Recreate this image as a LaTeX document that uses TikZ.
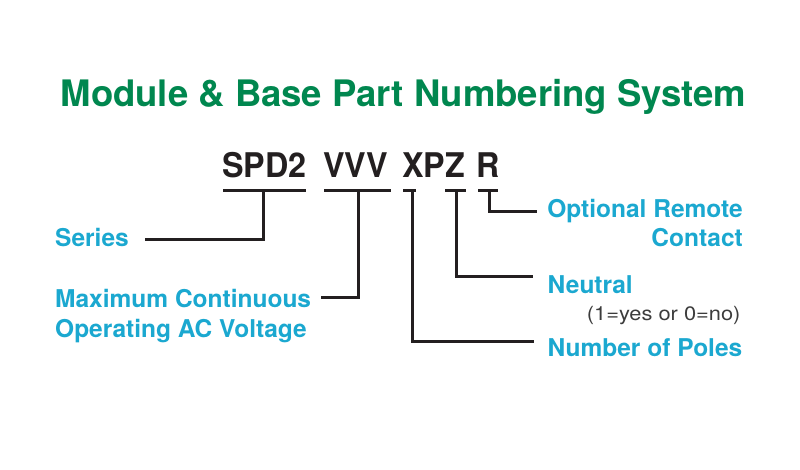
\documentclass[tikz,border=0pt]{standalone}
\usepackage{fontspec}
\setmainfont{TeX Gyre Heros}
\newfontfamily\codefont[FakeStretch=0.95]{TeX Gyre Heros}
\newfontfamily\notefont[FakeStretch=1.12]{TeX Gyre Heros}
\usetikzlibrary{calc}
\definecolor{PNGreen}{HTML}{00874F}
\definecolor{PNCyan}{HTML}{1BA8D0}
\definecolor{PNInk}{HTML}{231F20}
\definecolor{PNNote}{HTML}{3C3C3C}

\begin{document}
\begin{tikzpicture}[
    x=1pt,y=-1pt,
    heading/.style={inner sep=0,text=PNGreen,font=\bfseries\fontsize{36.5}{40}\selectfont},
    codepart/.style={inner sep=0,anchor=base west,text=PNInk,
      font=\codefont\bfseries\fontsize{34}{38}\selectfont},
    field/.style={inner sep=0,text=PNCyan,font=\bfseries\fontsize{24.5}{29.5}\selectfont},
    note/.style={inner sep=0,text=PNNote,font=\notefont\fontsize{19.5}{22}\selectfont},
    bar/.style={draw=PNInk,line width=3pt},
    lead/.style={draw=PNInk,line width=3pt}
  ]
    \useasboundingbox[fill=white] (0,0) rectangle (800,469);
    \node[heading,anchor=base] (title) at (403.5,106)
      {Module \& Base Part Numbering System};
    % the part number
    \node[codepart] (spd) at (222,177) {SPD2};
    \node[codepart] (vvv) at (323,177) {VVV};
    \node[codepart] (xpz) at (402,177) {XPZ};
    \node[codepart] (rem) at (476,177) {R};
    \draw[bar] (223,190) -- (306,190) (324,190) -- (391,190)
      (403,190) -- (416,190) (445,190) -- (466,190) (478,190) -- (498,190);
    \coordinate (tapS) at (263.5,190);
    \coordinate (tapV) at (358.5,190);
    \coordinate (tapX) at (412,190);
    \coordinate (tapZ) at (456,190);
    \coordinate (tapR) at (489,190);
    % the fields (base = last line)
    \node[field,anchor=base west] (series) at (55,246) {Series};
    \node[field,anchor=base west,align=left] (maxv) at (55,337)
      {Maximum Continuous\\Operating AC Voltage};
    \node[field,anchor=base east,align=right] (remote) at (743,246.5)
      {Optional Remote\\Contact};
    \node[field,anchor=base west] (neutral) at (547.5,293.3) {Neutral};
    \node[note,anchor=base east] (yesno) at (740.7,320) {(1=yes or 0=no)};
    \node[field,anchor=base west] (poles) at (547.5,356.7) {Number of Poles};
    \draw[lead] (tapS) |- ([xshift=16pt,yshift=-12pt]series.north east);
    \draw[lead] (tapV) |- ([xshift=10pt,yshift=-8pt]maxv.north east);
    \draw[lead] (tapX) |- ([xshift=-14pt,yshift=-3pt]poles.north west);
    \draw[lead] (tapZ) |- ([xshift=-15pt,yshift=-1pt]neutral.north west);
    \draw[lead] (tapR) |- ([xshift=-10pt,yshift=-12.5pt]remote.north west);
  \end{tikzpicture}
\end{document}
